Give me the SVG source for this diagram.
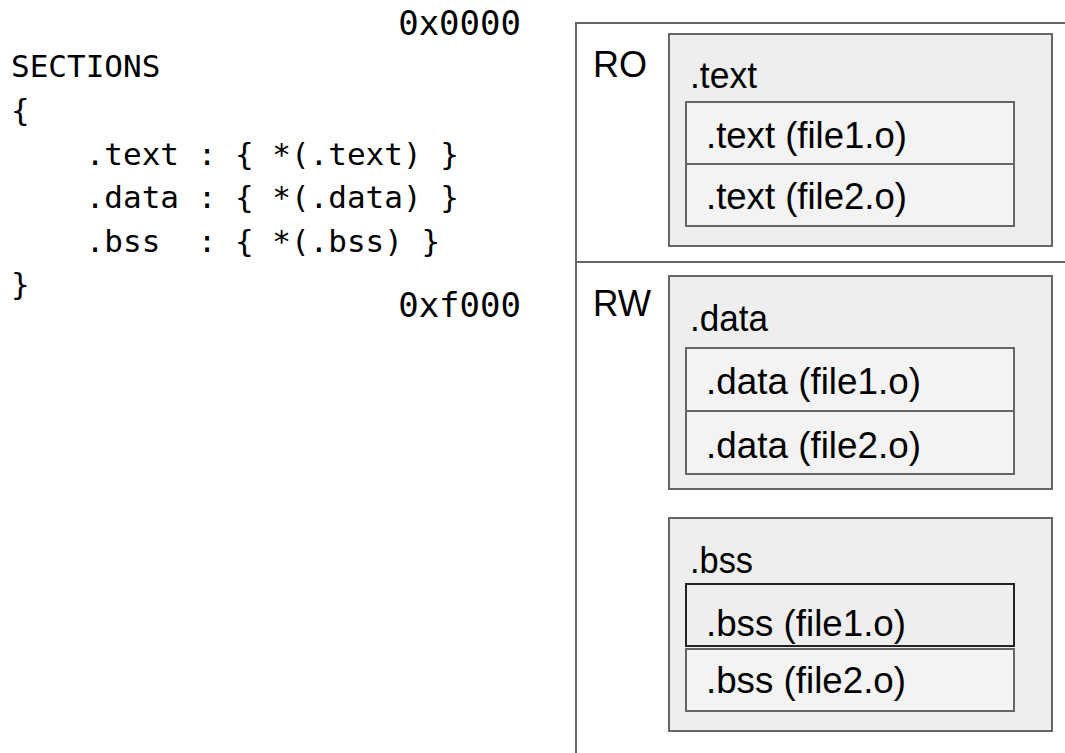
<svg xmlns="http://www.w3.org/2000/svg" width="1065" height="753" viewBox="0 0 1065 753">
<style>
.code{font-family:"DejaVu Sans Mono","Liberation Mono",monospace;font-size:31px;fill:#000}
.addr{font-family:"DejaVu Sans Mono","Liberation Mono",monospace;font-size:34px;fill:#000}
.lbl{font-family:"Liberation Sans",Arial,sans-serif;font-size:36px;fill:#000}
.sec{fill:#eeeeee;stroke:#666666;stroke-width:2}
.row{fill:#f3f3f3;stroke:#666666;stroke-width:2}
.rowd{fill:#eeeeee;stroke:#222222;stroke-width:2}
.frame{fill:none;stroke:#666666;stroke-width:2}
</style>
<rect width="1065" height="753" fill="#ffffff"/>
<g id="code">
<text class="code" x="11" y="77" xml:space="preserve">SECTIONS</text>
<text class="code" x="11" y="121" xml:space="preserve">{</text>
<text class="code" x="11" y="165" xml:space="preserve">    .text : { *(.text) }</text>
<text class="code" x="11" y="208" xml:space="preserve">    .data : { *(.data) }</text>
<text class="code" x="11" y="252" xml:space="preserve">    .bss  : { *(.bss) }</text>
<text class="code" x="11" y="295" xml:space="preserve">}</text>
</g>
<g id="addresses">
<text class="addr" x="521" y="35" text-anchor="end">0x0000</text>
<text class="addr" x="521" y="317" text-anchor="end">0xf000</text>
</g>
<g id="memory">
<path class="frame" d="M1066 23 H576 V754"/>
<path class="frame" d="M576 262 H1066"/>
</g>
<g id="ro">
<text class="lbl" x="593" y="77" textLength="54" lengthAdjust="spacingAndGlyphs">RO</text>
</g>
<g id="rw">
<text class="lbl" x="593" y="316" textLength="58" lengthAdjust="spacingAndGlyphs">RW</text>
</g>
<g id="text-section">
<rect class="sec" x="669" y="34" width="383" height="212"/>
<text class="lbl" x="690" y="88" textLength="67" lengthAdjust="spacingAndGlyphs">.text</text>
<rect class="row" x="686" y="102" width="328" height="62"/>
<text class="lbl" x="706" y="148" textLength="201" lengthAdjust="spacingAndGlyphs">.text (file1.o)</text>
<rect class="row" x="686" y="164" width="328" height="62"/>
<text class="lbl" x="706" y="209" textLength="201" lengthAdjust="spacingAndGlyphs">.text (file2.o)</text>
</g>
<g id="data-section">
<rect class="sec" x="669" y="276" width="383" height="213"/>
<text class="lbl" x="690" y="331" textLength="78" lengthAdjust="spacingAndGlyphs">.data</text>
<rect class="row" x="686" y="348" width="328" height="63"/>
<text class="lbl" x="706" y="394" textLength="215" lengthAdjust="spacingAndGlyphs">.data (file1.o)</text>
<rect class="row" x="686" y="411" width="328" height="63"/>
<text class="lbl" x="706" y="458" textLength="215" lengthAdjust="spacingAndGlyphs">.data (file2.o)</text>
</g>
<g id="bss-section">
<rect class="sec" x="669" y="518" width="383" height="213"/>
<text class="lbl" x="690" y="573" textLength="63" lengthAdjust="spacingAndGlyphs">.bss</text>
<rect class="row" x="686" y="649" width="328" height="62"/>
<text class="lbl" x="706" y="693" textLength="200" lengthAdjust="spacingAndGlyphs">.bss (file2.o)</text>
<rect class="rowd" x="686" y="584" width="328" height="62"/>
<text class="lbl" x="706" y="636" textLength="200" lengthAdjust="spacingAndGlyphs">.bss (file1.o)</text>
</g>
</svg>
